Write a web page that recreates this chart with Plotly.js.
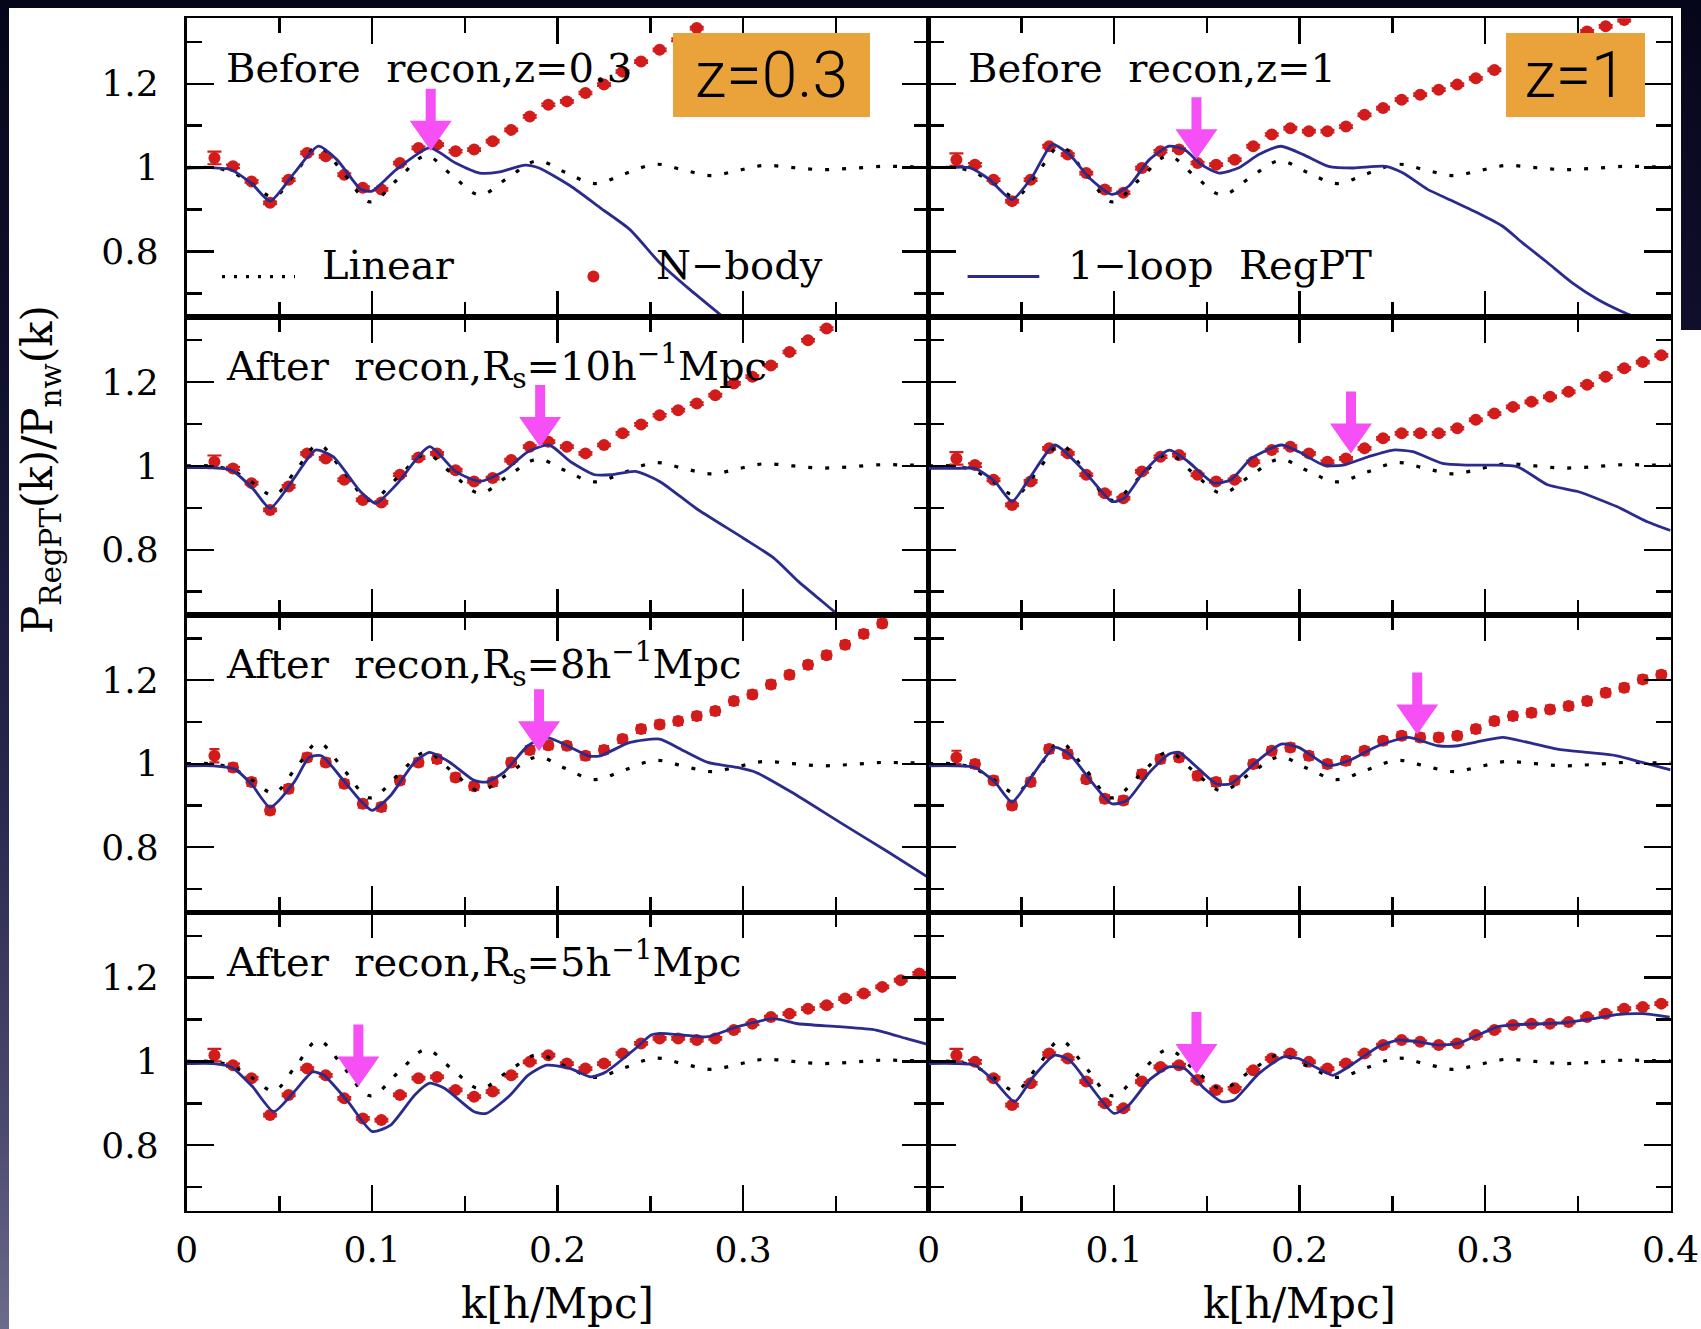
<!DOCTYPE html>
<html>
<head>
<meta charset="utf-8">
<script src="https://cdn.plot.ly/plotly-3.0.1.min.js"></script>
<style>
  html, body { margin: 0; padding: 0; }
  body {
    width: 1701px; height: 1329px; overflow: hidden;
    background: linear-gradient(180deg, #06061a 0%, #111130 30%, #28274d 60%, #4c4a6e 85%, #6c6b8b 100%);
  }
  #chart { position: absolute; left: 0; top: 0; width: 1701px; height: 1329px; }
</style>
</head>
<body>
<div id="chart"></div>
<script>
// ---- wavenumber grid of the N-body measurements [h/Mpc] ----
const nbodyK = [0.015, 0.025, 0.035, 0.045, 0.055, 0.065, 0.075, 0.085, 0.095, 0.105,
                0.115, 0.125, 0.135, 0.145, 0.155, 0.165, 0.175, 0.185, 0.195, 0.205,
                0.215, 0.225, 0.235, 0.245, 0.255, 0.265, 0.275, 0.285, 0.295, 0.305,
                0.315, 0.325, 0.335, 0.345, 0.355, 0.365, 0.375, 0.385, 0.395];
const nbodyErr = [0.015, 0.004, 0.003, 0.003, 0.003, 0.003, 0.003, 0.003, 0.003, 0.003,
                  0.003, 0.003, 0.003, 0.003, 0.003, 0.003, 0.003, 0.003, 0.003, 0.003,
                  0.003, 0.003, 0.003, 0.003, 0.003, 0.003, 0.003, 0.003, 0.003, 0.003,
                  0.003, 0.003, 0.003, 0.003, 0.003, 0.003, 0.003, 0.003, 0.003];
const nbodyErrR8 = [0.016, 0.009, 0.009, 0.009, 0.009, 0.009, 0.009, 0.009, 0.009, 0.009,
                    0.009, 0.009, 0.009, 0.009, 0.009, 0.009, 0.009, 0.009, 0.009, 0.009,
                    0.009, 0.009, 0.009, 0.009, 0.009, 0.009, 0.009, 0.009, 0.009, 0.009,
                    0.009, 0.009, 0.009, 0.009, 0.009, 0.009, 0.009, 0.009, 0.009];

// ---- linear theory P_lin / P_nw (same in every panel) ----
const linearK = [0, 0.012, 0.024, 0.035, 0.047, 0.059, 0.071, 0.085, 0.099, 0.114,
                 0.129, 0.143, 0.158, 0.173, 0.189, 0.204, 0.220, 0.236, 0.253, 0.268,
                 0.283, 0.297, 0.311, 0.327, 0.342, 0.358, 0.375, 0.390, 0.400];
const linearRatio = [1.000, 1.000, 0.990, 0.962, 0.930, 0.990, 1.050, 0.984, 0.918, 0.973,
                     1.028, 0.982, 0.935, 0.975, 1.016, 0.989, 0.962, 0.985, 1.008, 0.994,
                     0.981, 0.993, 1.005, 1.000, 0.995, 0.998, 1.003, 1.002, 1.002];

// ---- Before recon, z = 0.3 ----
const regptK_z03 = [0, 0.013, 0.024, 0.0355, 0.045, 0.058, 0.071, 0.081, 0.094, 0.100,
                    0.113, 0.131, 0.145, 0.158, 0.168, 0.1825, 0.190, 0.207, 0.223, 0.239,
                    0.255, 0.271, 0.2875, 0.291];
const regpt_z03 = [0.999, 1.000, 0.995, 0.960, 0.920, 0.987, 1.051, 1.019, 0.948, 0.944,
                   0.995, 1.047, 1.011, 0.987, 0.989, 1.006, 0.999, 0.956, 0.904, 0.852,
                   0.773, 0.710, 0.650, 0.636];
const nbody_z03 = [1.023, 1.003, 0.967, 0.916, 0.971, 1.035, 1.027, 0.983, 0.952, 0.948,
                   1.011, 1.047, 1.055, 1.039, 1.043, 1.063, 1.090, 1.122, 1.150, 1.158,
                   1.178, 1.198, 1.229, 1.253, 1.281, 1.305, 1.333];

// ---- Before recon, z = 1 ----
const regptK_z1 = [0, 0.011, 0.022, 0.033, 0.045, 0.056, 0.0666, 0.076, 0.0867, 0.0988,
                   0.108, 0.119, 0.1297, 0.138, 0.147, 0.1565, 0.167, 0.178, 0.190, 0.202,
                   0.2156, 0.229, 0.2464, 0.2558, 0.269, 0.2827, 0.296, 0.3095, 0.320, 0.3337,
                   0.347, 0.3605, 0.374, 0.387];
const regpt_z1 = [1.000, 1.000, 1.000, 0.971, 0.924, 0.979, 1.055, 1.031, 0.975, 0.936,
                  0.956, 1.019, 1.051, 1.043, 1.007, 0.987, 0.999, 1.031, 1.051, 1.031,
                  1.003, 0.999, 1.003, 0.987, 0.948, 0.920, 0.892, 0.860, 0.821, 0.773,
                  0.725, 0.686, 0.656, 0.632];
const nbody_z1 = [1.019, 1.007, 0.971, 0.920, 0.971, 1.051, 1.031, 0.987, 0.948, 0.940,
                  0.999, 1.039, 1.043, 1.011, 1.007, 1.019, 1.051, 1.079, 1.094, 1.087,
                  1.087, 1.098, 1.126, 1.142, 1.162, 1.174, 1.186, 1.198, 1.213, 1.233,
                  null, null, null, null, 1.325, 1.337, 1.352];

// ---- After recon, R_s = 10 Mpc/h, z = 0.3 ----
const regptK_z03_R10 = [0, 0.013, 0.024, 0.0355, 0.045, 0.058, 0.0695, 0.079, 0.0937, 0.102,
                        0.113, 0.131, 0.145, 0.158, 0.171, 0.184, 0.1955, 0.207, 0.220, 0.229,
                        0.242, 0.255, 0.2746, 0.300, 0.3166, 0.3296, 0.3425, 0.353];
const regpt_z03_R10 = [0.996, 0.996, 0.990, 0.947, 0.899, 0.971, 1.038, 1.022, 0.939, 0.911,
                       0.955, 1.046, 0.987, 0.963, 0.987, 1.034, 1.050, 1.010, 0.979, 0.979,
                       0.987, 0.963, 0.899, 0.828, 0.780, 0.725, 0.677, 0.638];
const nbody_z03_R10 = [1.010, 0.994, 0.959, 0.895, 0.951, 1.030, 1.018, 0.967, 0.919, 0.913,
                       0.979, 1.020, 1.030, 0.990, 0.963, 0.971, 1.014, 1.046, 1.058, 1.046,
                       1.030, 1.050, 1.078, 1.099, 1.121, 1.133, 1.149, 1.169, 1.197, 1.213,
                       1.240, 1.272, 1.300, 1.328];

// ---- After recon, R_s = 10 Mpc/h, z = 1 ----
const regptK_z1_R10 = [0, 0.014, 0.025, 0.0357, 0.045, 0.0545, 0.068, 0.084, 0.0988, 0.1055,
                       0.1162, 0.1297, 0.140, 0.1538, 0.163, 0.174, 0.190, 0.1995, 0.213, 0.2236,
                       0.237, 0.2505, 0.261, 0.277, 0.2907, 0.304, 0.3176, 0.3337, 0.350, 0.371,
                       0.3874, 0.400];
const regpt_z1_R10 = [0.994, 0.994, 0.994, 0.963, 0.915, 0.971, 1.050, 0.987, 0.915, 0.923,
                      0.987, 1.038, 1.010, 0.959, 0.967, 1.018, 1.050, 1.034, 1.002, 1.002,
                      1.022, 1.038, 1.034, 1.006, 1.002, 1.002, 0.998, 0.955, 0.939, 0.903,
                      0.867, 0.846];
const nbody_z1_R10 = [1.018, 1.002, 0.967, 0.907, 0.963, 1.042, 1.030, 0.979, 0.935, 0.923,
                      0.987, 1.022, 1.026, 0.979, 0.963, 0.967, 1.010, 1.038, 1.046, 1.030,
                      1.010, 1.018, 1.042, 1.066, 1.078, 1.078, 1.078, 1.090, 1.110, 1.125,
                      1.141, 1.153, 1.165, 1.177, 1.194, 1.213, 1.233, 1.248, 1.264];

// ---- After recon, R_s = 8 Mpc/h, z = 0.3 ----
const regptK_z03_R8 = [0, 0.0145, 0.026, 0.0355, 0.045, 0.058, 0.066, 0.0727, 0.084, 0.0937,
                       0.100, 0.110, 0.1228, 0.131, 0.142, 0.155, 0.1616, 0.171, 0.184, 0.194,
                       0.207, 0.2165, 0.223, 0.239, 0.255, 0.268, 0.281, 0.297, 0.307, 0.326,
                       0.352, 0.378, 0.400];
const regpt_z03_R8 = [0.995, 0.995, 0.987, 0.948, 0.896, 0.956, 1.015, 1.019, 0.963, 0.912,
                      0.888, 0.924, 1.003, 1.027, 1.003, 0.960, 0.956, 0.979, 1.043, 1.063,
                      1.039, 1.019, 1.019, 1.051, 1.059, 1.031, 1.003, 0.991, 0.979, 0.932,
                      0.860, 0.789, 0.727];
const nbody_z03_R8 = [1.019, 0.991, 0.956, 0.888, 0.940, 1.015, 1.003, 0.952, 0.904, 0.896,
                      0.960, 1.003, 1.011, 0.967, 0.946, 0.956, 1.003, 1.033, 1.044, 1.043,
                      1.019, 1.033, 1.059, 1.083, 1.094, 1.102, 1.114, 1.126, 1.150, 1.166,
                      1.190, 1.213, 1.237, 1.260, 1.285, 1.311, 1.336];

// ---- After recon, R_s = 8 Mpc/h, z = 1 ----
const regptK_z1_R8 = [0, 0.0142, 0.025, 0.0357, 0.045, 0.0558, 0.068, 0.076, 0.0867, 0.0988,
                      0.107, 0.119, 0.1297, 0.135, 0.1458, 0.155, 0.163, 0.1753, 0.190, 0.1995,
                      0.2156, 0.2263, 0.2424, 0.2585, 0.2746, 0.2854, 0.2988, 0.3095, 0.323, 0.339,
                      0.355, 0.371, 0.3847, 0.400];
const regpt_z1_R8 = [0.995, 0.995, 0.991, 0.956, 0.908, 0.971, 1.039, 1.023, 0.963, 0.904,
                     0.912, 0.979, 1.023, 1.027, 0.987, 0.952, 0.952, 0.999, 1.047, 1.039,
                     0.995, 1.007, 1.043, 1.063, 1.043, 1.043, 1.055, 1.063, 1.051, 1.035,
                     1.027, 1.019, 1.003, 0.985];
const nbody_z1_R8 = [1.015, 0.999, 0.960, 0.900, 0.956, 1.035, 1.023, 0.963, 0.916, 0.912,
                     0.975, 1.011, 1.015, 0.971, 0.956, 0.960, 0.999, 1.031, 1.039, 1.019,
                     0.999, 1.007, 1.031, 1.055, 1.067, 1.063, 1.063, 1.067, 1.083, 1.102,
                     1.114, 1.122, 1.130, 1.138, 1.150, 1.170, 1.182, 1.202, 1.213];

// ---- After recon, R_s = 5 Mpc/h, z = 0.3 ----
const regptK_z03_R5 = [0, 0.0145, 0.024, 0.0355, 0.047, 0.058, 0.068, 0.074, 0.087, 0.100,
                       0.110, 0.123, 0.131, 0.139, 0.155, 0.1616, 0.1745, 0.184, 0.194, 0.207,
                       0.218, 0.226, 0.242, 0.2504, 0.255, 0.268, 0.281, 0.297, 0.3166, 0.3296,
                       0.352, 0.3716, 0.3877, 0.400];
const regpt_z03_R5 = [0.995, 0.995, 0.987, 0.940, 0.880, 0.928, 0.975, 0.967, 0.904, 0.833,
                      0.848, 0.920, 0.948, 0.936, 0.880, 0.876, 0.920, 0.967, 0.991, 0.983,
                      0.963, 0.975, 1.031, 1.063, 1.067, 1.063, 1.059, 1.083, 1.102, 1.090,
                      1.083, 1.075, 1.055, 1.040];
const nbody_z03_R5 = [1.015, 0.991, 0.960, 0.872, 0.920, 0.983, 0.967, 0.912, 0.864, 0.860,
                      0.920, 0.960, 0.963, 0.932, 0.916, 0.928, 0.967, 0.999, 1.015, 0.995,
                      0.983, 0.995, 1.019, 1.043, 1.055, 1.055, 1.051, 1.055, 1.075, 1.090,
                      1.106, 1.114, 1.126, 1.134, 1.150, 1.162, 1.178, 1.194, 1.210];

// ---- After recon, R_s = 5 Mpc/h, z = 1 ----
const regptK_z1_R5 = [0, 0.0142, 0.025, 0.0357, 0.0464, 0.0558, 0.068, 0.076, 0.0867, 0.100,
                      0.108, 0.119, 0.1297, 0.138, 0.1485, 0.158, 0.1646, 0.178, 0.1914, 0.1995,
                      0.210, 0.218, 0.229, 0.2424, 0.253, 0.264, 0.2746, 0.2854, 0.296, 0.307,
                      0.3176, 0.331, 0.3444, 0.358, 0.371, 0.3847, 0.3995];
const regpt_z1_R5 = [0.995, 0.995, 0.991, 0.952, 0.904, 0.960, 1.015, 1.003, 0.944, 0.876,
                     0.896, 0.956, 0.987, 0.983, 0.936, 0.904, 0.908, 0.971, 1.011, 1.007,
                     0.983, 0.967, 0.995, 1.035, 1.051, 1.047, 1.039, 1.043, 1.063, 1.083,
                     1.088, 1.090, 1.093, 1.102, 1.112, 1.114, 1.106];
const nbody_z1_R5 = [1.015, 0.999, 0.960, 0.896, 0.948, 1.019, 1.007, 0.952, 0.900, 0.888,
                     0.952, 0.987, 0.991, 0.956, 0.932, 0.936, 0.979, 1.007, 1.019, 0.999,
                     0.983, 0.995, 1.019, 1.039, 1.051, 1.047, 1.039, 1.043, 1.063, 1.075,
                     1.087, 1.090, 1.090, 1.094, 1.106, 1.114, 1.126, 1.130, 1.138];

// ---- arrows marking where the 1-loop prediction departs from the simulation ----
const arrowK     = [0.1316, 0.1444, 0.1906, 0.2277, 0.1900, 0.2634, 0.0926, 0.1444];
const arrowRatio = [1.040, 1.020, 1.045, 1.030, 1.030, 1.070, 0.940, 0.970];

// ---- text ----
const panelLabels = ['Before\u00a0 recon,z=0.3', 'Before\u00a0 recon,z=1',
                     'After\u00a0 recon,R<sub>s</sub>=10h<sup>\u22121</sup>Mpc', '',
                     'After\u00a0 recon,R<sub>s</sub>=8h<sup>\u22121</sup>Mpc', '',
                     'After\u00a0 recon,R<sub>s</sub>=5h<sup>\u22121</sup>Mpc', ''];
const xTickVals = [0, 0.1, 0.2, 0.3, 0.4];
const xTickTextLeft = ['0', '0.1', '0.2', '0.3', ' '];
const xTickTextRight = ['0', '0.1', '0.2', '0.3', '0.4'];

const RED = '#d21c1c', NAVY = '#2b2b8e', MAGENTA = '#f54ff5', ORANGE = '#e9a33a';
const SERIF = 'DejaVu Serif, Liberation Serif, serif';

const panels = [
  { k: regptK_z03,     r: regpt_z03,     nb: nbody_z03,     err: nbodyErr,   cap: 7 },
  { k: regptK_z1,      r: regpt_z1,      nb: nbody_z1,      err: nbodyErr,   cap: 7 },
  { k: regptK_z03_R10, r: regpt_z03_R10, nb: nbody_z03_R10, err: nbodyErr,   cap: 7 },
  { k: regptK_z1_R10,  r: regpt_z1_R10,  nb: nbody_z1_R10,  err: nbodyErr,   cap: 7 },
  { k: regptK_z03_R8,  r: regpt_z03_R8,  nb: nbody_z03_R8,  err: nbodyErrR8, cap: 5 },
  { k: regptK_z1_R8,   r: regpt_z1_R8,   nb: nbody_z1_R8,   err: nbodyErrR8, cap: 5 },
  { k: regptK_z03_R5,  r: regpt_z03_R5,  nb: nbody_z03_R5,  err: nbodyErr,   cap: 7 },
  { k: regptK_z1_R5,   r: regpt_z1_R5,   nb: nbody_z1_R5,   err: nbodyErr,   cap: 7 }
];

const W = 1701, H = 1329;
const px = v => v / W;          // horizontal pixel -> paper
const py = v => 1 - v / H;      // vertical pixel (from top) -> paper

const colDomains = [[px(186.6), px(928.6)], [px(928.6), px(1670.6)]];
const rowEdges = [18.4, 316.8, 615.1, 912.3, 1210.6];
const rowDomains = [0, 1, 2, 3].map(r => [py(rowEdges[r + 1]), py(rowEdges[r])]);

const axisCommon = {
  showline: true, linecolor: 'black', linewidth: 2.8, mirror: 'allticks',
  ticks: 'inside', tickcolor: 'black', tickwidth: 2.4,
  showgrid: false, zeroline: false, fixedrange: true,
  tickfont: { family: SERIF, size: 36, color: 'black' }
};

const traces = [];
const shapes = [];
const annotations = [];
const layout = {
  width: W, height: H,
  margin: { l: 0, r: 0, t: 0, b: 0 },
  paper_bgcolor: 'rgba(0,0,0,0)',
  plot_bgcolor: 'white',
  showlegend: false,
  font: { family: SERIF, color: 'black', size: 36 }
};

panels.forEach((p, i) => {
  const n = i + 1, row = Math.floor(i / 2), col = i % 2;
  const xa = n === 1 ? 'x' : 'x' + n;
  const ya = n === 1 ? 'y' : 'y' + n;
  const key = n === 1 ? '' : String(n);

  traces.push({
    x: nbodyK, y: p.nb, xaxis: xa, yaxis: ya, type: 'scatter', mode: 'markers',
    marker: { color: RED, size: 12 },
    error_y: { type: 'data', array: p.err, visible: true, color: RED, thickness: 2.2, width: p.cap },
    hoverinfo: 'skip'
  });
  traces.push({
    x: linearK, y: linearRatio, xaxis: xa, yaxis: ya, type: 'scatter', mode: 'lines',
    line: { color: 'black', width: 3.2, dash: '4px,13px', shape: 'spline', smoothing: 1 },
    hoverinfo: 'skip'
  });
  traces.push({
    x: p.k, y: p.r, xaxis: xa, yaxis: ya, type: 'scatter', mode: 'lines',
    line: { color: NAVY, width: 2.8, shape: 'spline', smoothing: 0.6 },
    hoverinfo: 'skip'
  });

  layout['xaxis' + key] = Object.assign({}, axisCommon, {
    domain: colDomains[col], anchor: ya, range: [0, 0.4],
    tickmode: 'array', tickvals: xTickVals,
    ticktext: col === 0 ? xTickTextLeft : xTickTextRight,
    ticklen: 26, showticklabels: row === 3, ticklabelstandoff: 5,
    minor: { dtick: 0.05, tick0: 0, ticks: 'inside', ticklen: 15, tickwidth: 2.4, tickcolor: 'black' }
  });
  layout['yaxis' + key] = Object.assign({}, axisCommon, {
    domain: rowDomains[row], anchor: xa, range: [0.644, 1.356],
    tickmode: 'linear', tick0: 0, dtick: 0.2,
    ticklen: 27, showticklabels: col === 0, ticklabelstandoff: 18,
    minor: { dtick: 0.1, tick0: 0, ticks: 'inside', ticklen: 15, tickwidth: 2.4, tickcolor: 'black' }
  });

  // magenta arrow, tip on the curve
  shapes.push({
    type: 'path', xref: xa, yref: ya,
    xsizemode: 'pixel', ysizemode: 'pixel',
    xanchor: arrowK[i], yanchor: arrowRatio[i],
    path: 'M0,0 L-21,30 L-5,30 L-5,62 L5,62 L5,30 L21,30 Z',
    fillcolor: MAGENTA, line: { width: 0 }, layer: 'above'
  });

  if (panelLabels[i]) {
    annotations.push({
      xref: xa + ' domain', yref: ya + ' domain', x: 0.051, y: 0.835,
      xanchor: 'left', yanchor: 'middle', showarrow: false,
      text: panelLabels[i], font: { family: SERIF, size: 40, color: 'black' }
    });
  }
});

// white page behind the figure
shapes.push({ type: 'rect', xref: 'paper', yref: 'paper', x0: px(9), x1: px(1681), y0: 0, y1: py(8),
              fillcolor: 'white', line: { width: 0 }, layer: 'below' });
shapes.push({ type: 'rect', xref: 'paper', yref: 'paper', x0: px(1679), x1: 1, y0: 0, y1: py(330),
              fillcolor: 'white', line: { width: 0 }, layer: 'below' });

// legend samples
shapes.push({ type: 'line', xref: 'paper', yref: 'paper', x0: px(222), x1: px(295), y0: py(276.6), y1: py(276.6),
              line: { color: 'black', width: 3.2, dash: '3px,9px' } });
shapes.push({ type: 'circle', xref: 'paper', yref: 'paper', xsizemode: 'pixel', ysizemode: 'pixel',
              xanchor: px(593.4), yanchor: py(276.6), x0: -6, x1: 6, y0: -6, y1: 6,
              fillcolor: RED, line: { width: 0 } });
shapes.push({ type: 'line', xref: 'paper', yref: 'paper', x0: px(967.6), x1: px(1039.3), y0: py(276.6), y1: py(276.6),
              line: { color: NAVY, width: 3 } });

const legendText = [['Linear', 320], ['N\u2212body', 654], ['1\u2212loop\u00a0 RegPT', 1066]];
legendText.forEach(([t, x]) => annotations.push({
  xref: 'paper', yref: 'paper', x: px(x), y: py(265), xanchor: 'left', yanchor: 'middle',
  showarrow: false, text: t, font: { family: SERIF, size: 40, color: 'black' }
}));

// redshift tags
annotations.push({
  xref: 'paper', yref: 'paper', x: px(771.3), y: py(74.8), xanchor: 'center', yanchor: 'middle',
  showarrow: false, text: 'z=0.3', width: 197, height: 84, borderpad: 0, borderwidth: 0,
  bgcolor: ORANGE, font: { family: 'Roboto, Liberation Sans, sans-serif', size: 64, color: 'black', weight: 300 }
});
annotations.push({
  xref: 'paper', yref: 'paper', x: px(1575.2), y: py(74.8), xanchor: 'center', yanchor: 'middle',
  showarrow: false, text: 'z=1', width: 139, height: 84, borderpad: 0, borderwidth: 0,
  bgcolor: ORANGE, font: { family: 'Roboto, Liberation Sans, sans-serif', size: 64, color: 'black', weight: 300 }
});

// axis titles
annotations.push({
  xref: 'paper', yref: 'paper', x: px(40), y: py(470), xanchor: 'center', yanchor: 'middle',
  showarrow: false, textangle: -90,
  text: 'P<sub>RegPT</sub>(k)/P<sub>nw</sub>(k)', font: { family: SERIF, size: 42, color: 'black' }
});
[557.6, 1299.6].forEach(cx => annotations.push({
  xref: 'paper', yref: 'paper', x: px(cx), y: py(1303.5), xanchor: 'center', yanchor: 'middle',
  showarrow: false, text: 'k[h/Mpc]', font: { family: SERIF, size: 42, color: 'black' }
}));

layout.shapes = shapes;
layout.annotations = annotations;

Plotly.newPlot('chart', traces, layout, { staticPlot: true, displayModeBar: false }).then(gd => {
  // drop the placeholder text nodes Plotly leaves for unused axis titles
  gd.querySelectorAll('svg text').forEach(t => {
    if (!t.textContent.trim()) t.remove();
  });
});
</script>
</body>
</html>
